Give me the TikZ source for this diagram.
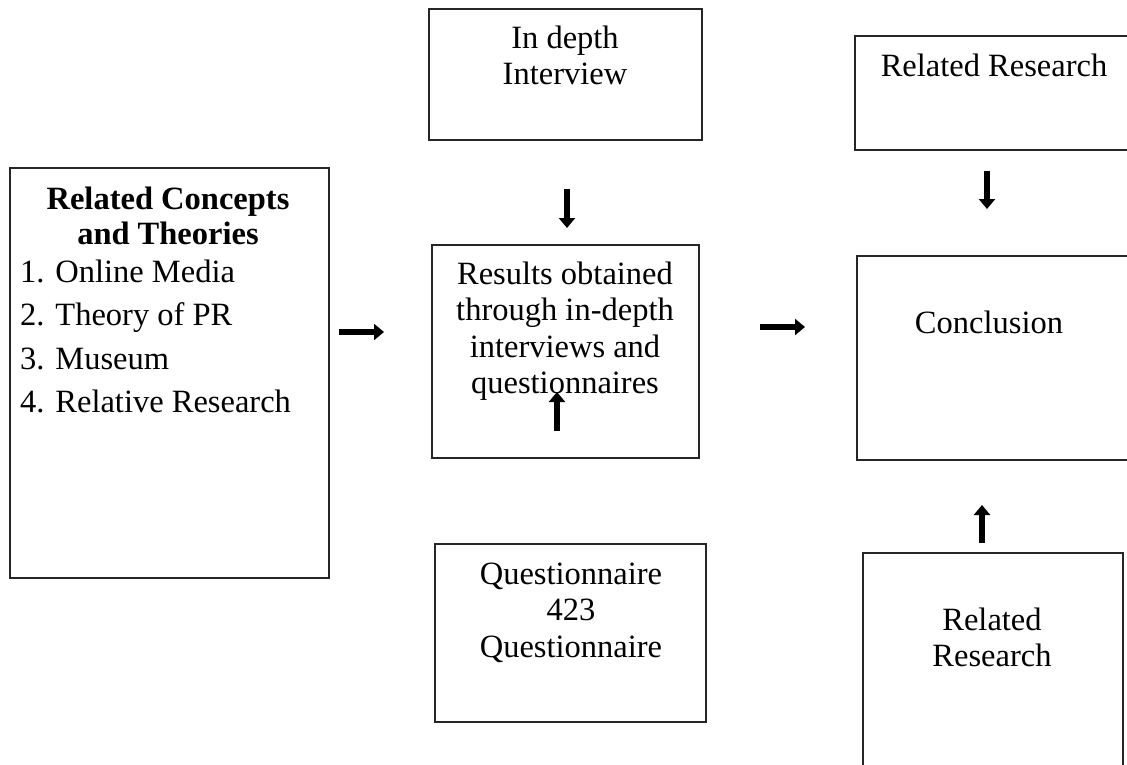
\documentclass[tikz,border=0pt]{standalone}
\usepackage{fontspec}
\setmainfont{Liberation Serif}
\usetikzlibrary{arrows.meta}
\begin{document}
\begin{tikzpicture}[x=1pt,y=-1pt,
  frame/.style={draw=black!85,line width=1.3pt,inner sep=0pt},
  txt/.style={inner sep=0pt,align=center,anchor=north,
    font=\fontsize{32.5}{36.5}\selectfont},
  blockarrow/.style={line width=6pt,
    -{Triangle[width=16pt,length=10pt]}}]
\useasboundingbox (0,0) rectangle (1127,765);
\clip (0,0) rectangle (1127,765);

% boxes
\node[frame,minimum width=319pt,minimum height=410pt] (concepts) at (169.5,373) {};
\node[frame,minimum width=273pt,minimum height=131pt] (interview) at (565.5,74.5) {};
\node[frame,minimum width=267pt,minimum height=213pt] (results) at (565.5,351.5) {};
\node[frame,minimum width=271pt,minimum height=178pt] (quest) at (570.5,633) {};
\node[frame,minimum width=300pt,minimum height=114pt] (relTop) at (1005,93) {};
\node[frame,minimum width=300pt,minimum height=204pt] (conclusion) at (1007,358) {};
\node[frame,minimum width=260pt,minimum height=240pt] (relBot) at (993,673) {};

% texts
\node[txt,font=\bfseries\fontsize{32.5}{35}\selectfont] (conceptsHead) at (168,187)
  {Related Concepts\\and Theories};
\node[txt,align=left,anchor=north west] (conceptsList) at (20,259.5)
  {1. Online Media\\[7pt]2. Theory of PR\\[7pt]3. Museum\\[7pt]4. Relative Research};
\node[txt] (interviewText) at (565,25.5) {In depth\\Interview};
\node[txt] (resultsText) at (565,261.5) {Results obtained\\through in-depth\\interviews and\\questionnaires};
\node[txt] (questText) at (571,562.5) {Questionnaire\\423\\Questionnaire};
\node[txt] (relTopText) at (994,53.5) {Related Research};
\node[txt] (conclusionText) at (989,310.5) {Conclusion};
\node[txt] (relBotText) at (992,607.5) {Related\\Research};

% arrow end points
\coordinate (a1s) at (339,332);
\coordinate (a1e) at (384,332);
\coordinate (a2s) at (567,189);
\coordinate (a2e) at (567,228);
\coordinate (a3s) at (557,431);
\coordinate (a3e) at (557,392);
\coordinate (a4s) at (760,327);
\coordinate (a4e) at (805,327);
\coordinate (a5s) at (987,171);
\coordinate (a5e) at (987,209);
\coordinate (a6s) at (982,543);
\coordinate (a6e) at (982,505);

\draw[blockarrow] (a1s) -- (a1e);
\draw[blockarrow] (a2s) -- (a2e);
\draw[blockarrow] (a3s) -- (a3e);
\draw[blockarrow] (a4s) -- (a4e);
\draw[blockarrow] (a5s) -- (a5e);
\draw[blockarrow] (a6s) -- (a6e);
\end{tikzpicture}
\end{document}
